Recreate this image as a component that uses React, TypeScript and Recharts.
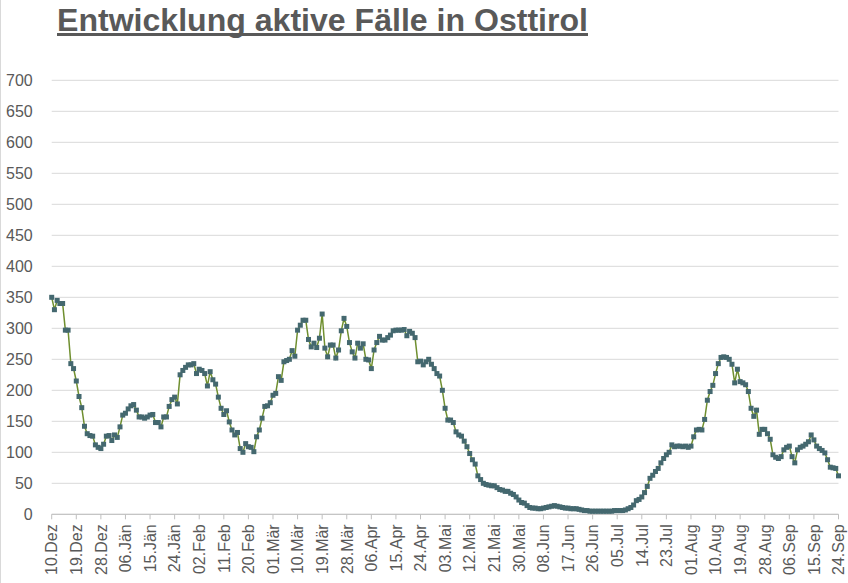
import { LineChart, Line, XAxis, YAxis, CartesianGrid } from "recharts";

// Tick labels, one every 9 days starting 10.Dez
const TICK_LABELS = [
  "10.Dez", "19.Dez", "28.Dez", "06.Jän", "15.Jän", "24.Jän", "02.Feb", "11.Feb",
  "20.Feb", "01.Mär", "10.Mär", "19.Mär", "28.Mär", "06.Apr", "15.Apr", "24.Apr",
  "03.Mai", "12.Mai", "21.Mai", "30.Mai", "08.Jun", "17.Jun", "26.Jun", "05.Jul",
  "14.Jul", "23.Jul", "01.Aug", "10.Aug", "19.Aug", "28.Aug", "06.Sep", "15.Sep",
  "24.Sep",
];

// Active cases per day, one row per 9-day tick interval
const WINTER = [
  350, 330, 345, 340, 340, 297, 297, 243, 235,
  215, 190, 172, 142, 130, 127, 126, 112, 108,
  106, 113, 126, 127, 119, 128, 124, 141, 160,
  163, 170, 175, 177, 168, 157, 157, 155, 157,
  160, 161, 148, 148, 141, 157, 157, 174, 185,
  189, 178, 225, 232, 237, 241, 241, 243, 227,
  234, 232, 227, 207, 230, 217, 210, 189, 171,
  161, 167, 149, 136, 128, 132, 106, 100, 114,
  109, 108, 101, 125, 136, 155, 174, 175, 180,
];

const SPRING = [
  192, 195, 222, 216, 246, 248, 250, 264, 255,
  297, 305, 313, 313, 282, 270, 276, 269, 284,
  323, 268, 254, 273, 273, 252, 265, 296, 316,
  303, 277, 262, 252, 276, 268, 275, 250, 249,
  235, 265, 277, 287, 281, 281, 285, 289, 296,
  297, 297, 297, 298, 288, 295, 292, 285, 246,
  247, 241, 246, 250, 242, 235, 227, 223, 200,
  171, 152, 152, 148, 133, 128, 126, 118, 109,
];

const EARLY_SUMMER = [
  98, 88, 81, 62, 56, 50, 48, 47, 46,
  46, 43, 40, 39, 37, 37, 34, 32, 28,
  23, 19, 18, 14, 11, 10, 10, 9, 9,
  10, 11, 12, 13, 14, 13, 12, 11, 10,
  10, 9, 9, 9, 8, 7, 6, 6, 5,
  5, 5, 5, 5, 5, 5, 5, 5, 6,
  6, 6, 6, 7, 9, 11, 15, 22, 24,
  28, 35, 45, 58, 63, 69, 74, 83, 90,
  96, 100, 112, 109, 110, 110, 109, 110, 108,
];

const LATE_SUMMER = [
  110, 125, 136, 137, 136, 153, 184, 198, 208,
  227, 243, 253, 254, 253, 250, 242, 212, 234,
  214, 212, 209, 198, 171, 158, 168, 129, 137,
  137, 130, 121, 96, 92, 90, 93, 104, 108,
  110, 93, 83, 104, 108, 110, 113, 117, 128,
  120, 110, 106, 103, 99, 88, 76, 75, 74,
  62,
];

const Y_TICKS = [0, 50, 100, 150, 200, 250, 300, 350, 400, 450, 500, 550, 600, 650, 700];

const cases = [...WINTER, ...SPRING, ...EARLY_SUMMER, ...LATE_SUMMER];
const data = cases.map((value, day) => ({ day, value }));
const xTicks = TICK_LABELS.map((_, i) => i * 9);

const FONT = '"Liberation Sans", Arial, sans-serif';
const TEXT = "#595959";

function DateTick(props: any) {
  const { x, y, payload } = props;
  return (
    <g transform={`translate(${x},${y})`}>
      <text
        transform="rotate(-90)"
        textAnchor="end"
        dy="0.36em"
        fill={TEXT}
        fontSize={16}
        fontFamily={FONT}
      >
        {TICK_LABELS[payload.value / 9]}
      </text>
    </g>
  );
}

function SquareDot(props: any) {
  const { cx, cy, index } = props;
  if (cx == null || cy == null) return <g key={`d-${index}`} />;
  return <rect key={`d-${index}`} x={cx - 2.5} y={cy - 2.5} width={5} height={5} fill="#44686f" />;
}

export default function App() {
  return (
    <div style={{ position: "absolute", left: 0, top: 0, width: 848, height: 583, background: "#fff" }}>
      <svg width={848} height={583} style={{ position: "absolute", left: 0, top: 0 }}>
        <line x1={0.5} y1={0} x2={0.5} y2={583} stroke="#d9d9d9" />
        <text
          x={57}
          y={31}
          fontSize={31}
          fontWeight="bold"
          fontFamily={FONT}
          fill={TEXT}
          textLength={531}
          lengthAdjust="spacingAndGlyphs"
        >
          Entwicklung aktive Fälle in Osttirol
        </text>
        <rect x={57} y={33} width={531} height={3} fill={TEXT} />
      </svg>
      <div style={{ position: "absolute", left: 0, top: 0 }}>
        <LineChart
          width={848}
          height={583}
          data={data}
          margin={{ top: 80.3, right: 9.5, left: 0, bottom: 0 }}
        >
          <CartesianGrid horizontal vertical={false} stroke="#d9d9d9" />
          <XAxis
            dataKey="day"
            type="number"
            domain={[0, 288]}
            ticks={xTicks}
            interval={0}
            stroke="#bfbfbf"
            tickSize={5}
            tickMargin={5}
            tick={<DateTick />}
            height={68.7}
          />
          <YAxis
            domain={[0, 700]}
            ticks={Y_TICKS}
            interval={0}
            width={51.7}
            axisLine={false}
            tickLine={false}
            tickSize={0}
            tickMargin={19}
            tick={{ fill: TEXT, fontSize: 16, fontFamily: FONT }}
          />
          <Line
            type="linear"
            dataKey="value"
            stroke="#6f8f2f"
            strokeWidth={1.5}
            dot={SquareDot}
            activeDot={false}
            isAnimationActive={false}
          />
        </LineChart>
      </div>
    </div>
  );
}
